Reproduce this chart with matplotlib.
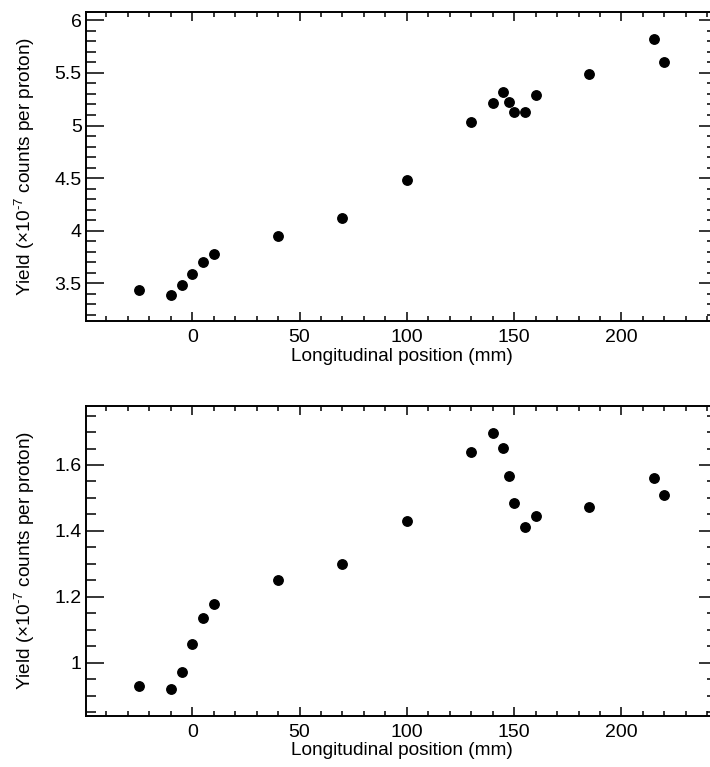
import numpy as np
import matplotlib
matplotlib.use('Agg')
import matplotlib.pyplot as plt
from matplotlib.ticker import MultipleLocator

plt.rcParams['font.family'] = ['Liberation Sans', 'DejaVu Sans']
plt.rcParams['mathtext.fontset'] = 'custom'
plt.rcParams['mathtext.rm'] = 'Liberation Sans'
plt.rcParams['mathtext.it'] = 'Liberation Sans:italic'

# 纵向位置 (mm)
position = [-25, -10, -5, 0, 5, 10, 40, 70, 100, 130, 140, 145, 147.5, 150, 155, 160, 185, 215, 220]

# 上图产额
yield_top = [3.436, 3.39, 3.484, 3.585, 3.70, 3.78, 3.953, 4.12, 4.482, 5.035, 5.21, 5.314,
             5.225, 5.127, 5.127, 5.286, 5.49, 5.823, 5.60]

# 下图产额
yield_bottom = [0.929, 0.921, 0.972, 1.056, 1.135, 1.178, 1.25, 1.299, 1.429, 1.639, 1.696, 1.652,
                1.567, 1.485, 1.413, 1.446, 1.473, 1.56, 1.508]

xlabel = 'Longitudinal position (mm)'
ylabel = r'Yield ($\times$10$^{\text{-7}}$ counts per proton)'

W, H = 710, 767
fig = plt.figure(figsize=(W / 100, H / 100), dpi=100)


def make_axes(top_px, bottom_px):
    left_px, right_px = 86, 717
    return fig.add_axes([left_px / W, 1 - bottom_px / H,
                         (right_px - left_px) / W, (bottom_px - top_px) / H])


def style_axes(ax, ydata, ylim, ymajor, yminor):
    ax.plot(position, ydata, 'o', color='black', ms=6.8, clip_on=False)
    ax.set_xlim(-49.5, 244.5)
    ax.set_ylim(*ylim)
    ax.xaxis.set_major_locator(MultipleLocator(50))
    ax.xaxis.set_minor_locator(MultipleLocator(10))
    ax.yaxis.set_major_locator(MultipleLocator(ymajor))
    ax.yaxis.set_minor_locator(MultipleLocator(yminor))
    ax.yaxis.set_major_formatter(plt.FuncFormatter(lambda v, p: ('%g' % round(v, 3))))
    for s in ax.spines.values():
        s.set_linewidth(1.4)
    ax.tick_params(axis='both', which='both', direction='in', top=True, right=True,
                   labelsize=14, width=1.1)
    ax.tick_params(axis='x', which='major', length=6.8, pad=6)
    ax.tick_params(axis='x', which='minor', length=3.6)
    ax.tick_params(axis='y', which='major', length=13, pad=3)
    ax.tick_params(axis='y', which='minor', length=7)
    ax.set_xlabel(xlabel, fontsize=13.7, labelpad=1)
    ax.set_ylabel(ylabel, fontsize=13.7, labelpad=13)


ax1 = make_axes(12, 321)
style_axes(ax1, yield_top, (3.142, 6.079), 0.5, 0.1)

ax2 = make_axes(405.7, 715.7)
style_axes(ax2, yield_bottom, (0.839, 1.78), 0.2, 0.05)

fig.savefig('out.png', dpi=100)
